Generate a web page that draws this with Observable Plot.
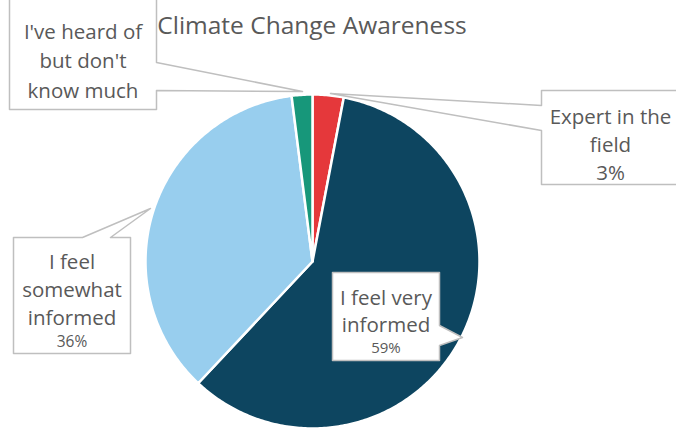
<!DOCTYPE html>
<html><head><meta charset="utf-8">
<script src="https://cdn.jsdelivr.net/npm/d3@7"></script>
<script src="https://cdn.jsdelivr.net/npm/@observablehq/plot@0.6"></script>
<style>body{margin:0;background:#fff}svg{display:block}</style>
</head><body><div id="chart"></div>
<script>
// ---- data ----
const categories = ["Expert in the field", "I feel very informed", "I feel somewhat informed", "I've heard of but don't know much"];
const values = [3, 59, 36, 2];
const labelLines = ["Expert in the\nfield", "I feel very\ninformed", "I feel\nsomewhat\ninformed", "I've heard of\nbut don't\nknow much"];
const showPercent = [true, true, true, false];
const colors = ["#E5383B", "#0D4560", "#98CEEE", "#17977A"];
const title = "Climate Change Awareness";

// ---- layout ----
const W = 676, H = 430;
const cx = 312, cy = 261, r = 167;
const FONT = "'Open Sans', Lato, sans-serif";
const textColor = "#595959";
const boxStroke = "#BFBFBF";

// slices from data via d3.pie
const arcs = d3.pie().sort(null).value(d => d)(values);
const slicePts = [];
arcs.forEach((a, i) => {
  slicePts.push({cat: categories[i], x: cx, y: cy});
  const n = Math.max(6, Math.ceil((a.endAngle - a.startAngle) * 80));
  for (let k = 0; k <= n; k++) {
    const t = a.startAngle + (a.endAngle - a.startAngle) * k / n;
    slicePts.push({cat: categories[i], x: cx + r * Math.sin(t), y: cy - r * Math.cos(t)});
  }
});

// callout shapes (layout)
const callouts = {
  "Expert in the field": [[541,90],[680,90],[680,184],[541,184],[541,130],[330,93],[541,105]],
  "I feel very informed": [[332,272],[439,272],[439,325],[462,337],[439,345],[439,360],[332,360]],
  "I feel somewhat informed": [[13,237],[82,237],[150,208],[110,237],[130,237],[130,353],[13,353]],
  "I've heard of but don't know much": [[9,-3],[156,-3],[156,62],[302,91],[156,90],[156,109],[9,109]]
};
const calloutPts = [];
Object.entries(callouts).forEach(([k, pts]) => pts.forEach(([x, y]) => calloutPts.push({id: k, x, y})));

// text layout: [x, firstBaseline, fontSize, lineHeightPx, pctBaseline (null = same text), pctSize]
const textLayout = {
  "Expert in the field": [610, 118, 20.5, 28, null, null],
  "I feel very informed": [385.5, 299.5, 20.5, 27, 352.5, 15],
  "I feel somewhat informed": [71.5, 263, 20.5, 28, 346, 15.5],
  "I've heard of but don't know much": [82.5, 32, 20.5, 29.5, null, null]
};
const labelData = categories.map((c, i) => {
  const [x, b, fs, lh, pb, ps] = textLayout[c];
  const pctStr = values[i] + "%";
  const inline = showPercent[i] && pb == null;
  return {cat: c, text: inline ? labelLines[i] + "\n" + pctStr : labelLines[i], x, y: b - 0.71 * fs, fs, lh: lh / fs,
          pct: showPercent[i] && !inline ? pctStr : null, py: pb == null ? null : pb - 0.71 * ps, ps};
});

const textMarks = [];
labelData.forEach(d => {
  textMarks.push(Plot.text([d], {x: "x", y: "y", text: "text", fontSize: d.fs, lineHeight: d.lh,
    lineAnchor: "top", textAnchor: "middle", fill: textColor, fontFamily: FONT}));
  if (d.pct) textMarks.push(Plot.text([d], {x: "x", y: "py", text: "pct", fontSize: d.ps,
    lineAnchor: "top", textAnchor: "middle", fill: textColor, fontFamily: FONT}));
});

const chart = Plot.plot({
  width: W, height: H,
  margin: 0,
  x: {domain: [0, W], range: [0, W], axis: null},
  y: {domain: [0, H], range: [0, H], axis: null},
  color: {domain: categories, range: colors},
  style: {fontFamily: FONT, background: "#fff"},
  marks: [
    Plot.line(slicePts, {x: "x", y: "y", z: "cat", fill: "cat", stroke: "white", strokeWidth: 2.5,
      strokeLinejoin: "round", curve: "linear-closed"}),
    Plot.line(calloutPts, {x: "x", y: "y", z: "id", fill: "white", stroke: boxStroke, strokeWidth: 1.5,
      curve: "linear-closed"}),
    Plot.text([title], {x: () => 311.5, y: () => 33 - 0.71 * 24.5, text: d => d, fontSize: 24.5,
      lineAnchor: "top", textAnchor: "middle", fill: textColor, fontFamily: FONT}),
    ...textMarks
  ]
});
document.getElementById("chart").append(chart);
</script>
</body></html>
